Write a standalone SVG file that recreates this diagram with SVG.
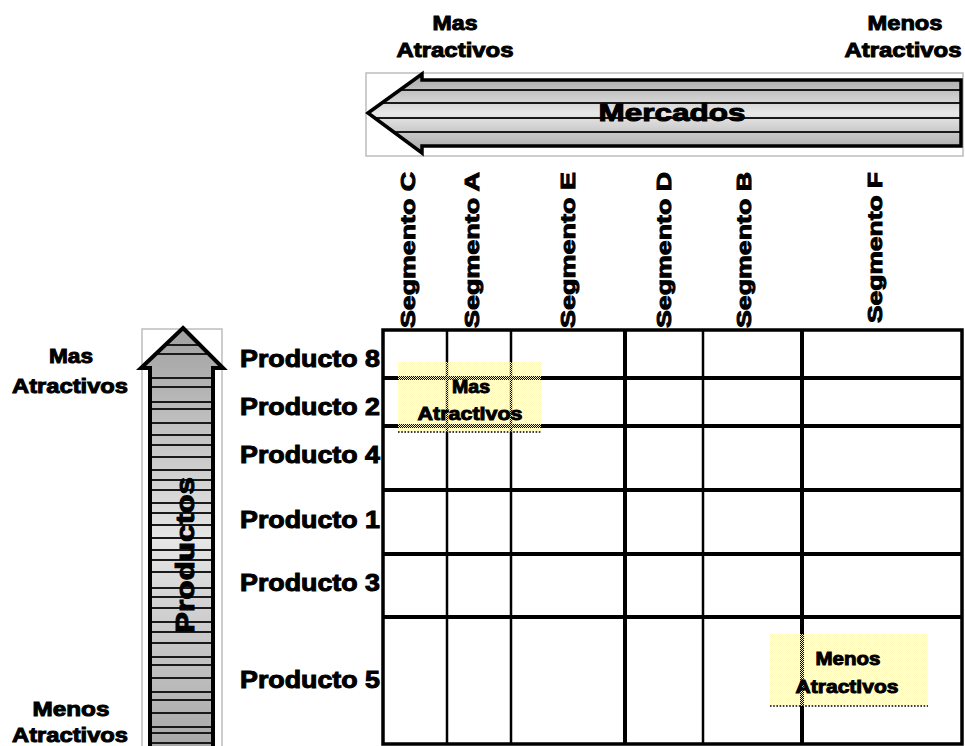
<svg xmlns="http://www.w3.org/2000/svg" width="965" height="746" viewBox="0 0 965 746">
<style>
text{font-family:"Liberation Sans",Arial,sans-serif;font-weight:bold;fill:#000;stroke:#000;stroke-width:1}
.lbl{font-size:21px;text-anchor:middle}
.prod{font-size:24px}
.seg{font-size:21px}
.box{font-size:19px;text-anchor:middle}
.thin{stroke:#000;stroke-width:2.5}
.thick{stroke:#000;stroke-width:4}
.stripe{stroke:#1a1a1a;stroke-width:2}
.bound{fill:none;stroke:#bdbdbd;stroke-width:1.5}
.dotline{stroke:#000;stroke-width:1.6;stroke-dasharray:1.6 1.6}
</style>
<defs>
<linearGradient id="hgrad" x1="0" y1="0" x2="0" y2="1">
<stop offset="0" stop-color="#a6a6a6"/>
<stop offset="0.5" stop-color="#e8e8e8"/>
<stop offset="1" stop-color="#a6a6a6"/>
</linearGradient>
<linearGradient id="vgrad" x1="0" y1="0" x2="0" y2="1">
<stop offset="0" stop-color="#a0a0a0"/>
<stop offset="0.5" stop-color="#e6e6e6"/>
<stop offset="1" stop-color="#a6a6a6"/>
</linearGradient>
<pattern id="ydots" width="2" height="2" patternUnits="userSpaceOnUse">
<rect width="1" height="1" fill="#fff8bb"/>
<rect x="1" y="1" width="1" height="1" fill="#fff8bb"/>
</pattern>
<clipPath id="hclip"><path d="M368,113 L422,74 L422,80 L961,80 L961,146 L422,146 L422,153 Z"/></clipPath>
<clipPath id="vclip"><path d="M183,328 L223,368 L213,368 L213,752 L150,752 L150,368 L141,368 Z"/></clipPath>
</defs>

<g id="top-labels">
<text class="lbl" x="455" y="30" textLength="45" lengthAdjust="spacingAndGlyphs">Mas</text>
<text class="lbl" x="455" y="57" textLength="117" lengthAdjust="spacingAndGlyphs">Atractivos</text>
<text class="lbl" x="905" y="30" textLength="75" lengthAdjust="spacingAndGlyphs">Menos</text>
<text class="lbl" x="903" y="57" textLength="117" lengthAdjust="spacingAndGlyphs">Atractivos</text>
</g>

<g id="mercados-arrow">
<rect class="bound" x="366" y="73" width="597" height="83"/>
<path d="M368,113 L422,74 L422,80 L961,80 L961,146 L422,146 L422,153 Z" fill="url(#hgrad)"/>
<g clip-path="url(#hclip)">
<line class="stripe" x1="360" y1="90" x2="965" y2="90"/>
<line class="stripe" x1="360" y1="103" x2="965" y2="103"/>
<line class="stripe" x1="360" y1="118" x2="965" y2="118"/>
<line class="stripe" x1="360" y1="132" x2="965" y2="132"/>
</g>
<path d="M368,113 L422,74 L422,80 L961,80 L961,146 L422,146 L422,153 Z" fill="none" stroke="#000" stroke-width="3.5"/>
<text x="672" y="121" style="font-size:24px;text-anchor:middle" textLength="147" lengthAdjust="spacingAndGlyphs">Mercados</text>
</g>

<g id="left-labels">
<text class="lbl" x="71" y="363" textLength="44" lengthAdjust="spacingAndGlyphs">Mas</text>
<text class="lbl" x="70" y="393" textLength="116" lengthAdjust="spacingAndGlyphs">Atractivos</text>
<text class="lbl" x="71" y="716" textLength="77" lengthAdjust="spacingAndGlyphs">Menos</text>
<text class="lbl" x="70" y="742" textLength="116" lengthAdjust="spacingAndGlyphs">Atractivos</text>
</g>

<g id="productos-arrow">
<rect class="bound" x="142" y="329" width="80" height="422"/>
<path d="M183,328 L223,368 L213,368 L213,752 L150,752 L150,368 L141,368 Z" fill="url(#vgrad)"/>
<g clip-path="url(#vclip)">
<line class="stripe" x1="130" y1="345" x2="230" y2="345"/>
<line class="stripe" x1="130" y1="354" x2="230" y2="354"/>
<line class="stripe" x1="130" y1="378" x2="230" y2="378"/>
<line class="stripe" x1="130" y1="387" x2="230" y2="387"/>
<line class="stripe" x1="130" y1="402" x2="230" y2="402"/>
<line class="stripe" x1="130" y1="409" x2="230" y2="409"/>
<line class="stripe" x1="130" y1="423" x2="230" y2="423"/>
<line class="stripe" x1="130" y1="435" x2="230" y2="435"/>
<line class="stripe" x1="130" y1="445" x2="230" y2="445"/>
<line class="stripe" x1="130" y1="457" x2="230" y2="457"/>
<line class="stripe" x1="130" y1="470" x2="230" y2="470"/>
<line class="stripe" x1="130" y1="480" x2="230" y2="480"/>
<line class="stripe" x1="130" y1="490" x2="230" y2="490"/>
<line class="stripe" x1="130" y1="503" x2="230" y2="503"/>
<line class="stripe" x1="130" y1="513" x2="230" y2="513"/>
<line class="stripe" x1="130" y1="525" x2="230" y2="525"/>
<line class="stripe" x1="130" y1="538" x2="230" y2="538"/>
<line class="stripe" x1="130" y1="550" x2="230" y2="550"/>
<line class="stripe" x1="130" y1="560" x2="230" y2="560"/>
<line class="stripe" x1="130" y1="572" x2="230" y2="572"/>
<line class="stripe" x1="130" y1="588" x2="230" y2="588"/>
<line class="stripe" x1="130" y1="597" x2="230" y2="597"/>
<line class="stripe" x1="130" y1="608" x2="230" y2="608"/>
<line class="stripe" x1="130" y1="622" x2="230" y2="622"/>
<line class="stripe" x1="130" y1="632" x2="230" y2="632"/>
<line class="stripe" x1="130" y1="643" x2="230" y2="643"/>
<line class="stripe" x1="130" y1="657" x2="230" y2="657"/>
<line class="stripe" x1="130" y1="665" x2="230" y2="665"/>
<line class="stripe" x1="130" y1="678" x2="230" y2="678"/>
<line class="stripe" x1="130" y1="692" x2="230" y2="692"/>
<line class="stripe" x1="130" y1="700" x2="230" y2="700"/>
<line class="stripe" x1="130" y1="713" x2="230" y2="713"/>
<line class="stripe" x1="130" y1="727" x2="230" y2="727"/>
<line class="stripe" x1="130" y1="733" x2="230" y2="733"/>
<line class="stripe" x1="130" y1="743" x2="230" y2="743"/>
</g>
<path d="M183,328 L223,368 L213,368 L213,752 L150,752 L150,368 L141,368 Z" fill="none" stroke="#000" stroke-width="4"/>
<text transform="translate(194,633) rotate(-90)" style="font-size:26px" textLength="156" lengthAdjust="spacingAndGlyphs">Productos</text>
</g>

<g id="segment-labels">
<text class="seg" transform="translate(415,328) rotate(-90)" textLength="156" lengthAdjust="spacingAndGlyphs">Segmento C</text>
<text class="seg" transform="translate(479,328) rotate(-90)" textLength="156" lengthAdjust="spacingAndGlyphs">Segmento A</text>
<text class="seg" transform="translate(575,328) rotate(-90)" textLength="156" lengthAdjust="spacingAndGlyphs">Segmento E</text>
<text class="seg" transform="translate(671,328) rotate(-90)" textLength="156" lengthAdjust="spacingAndGlyphs">Segmento D</text>
<text class="seg" transform="translate(751,328) rotate(-90)" textLength="156" lengthAdjust="spacingAndGlyphs">Segmento B</text>
<text class="seg" transform="translate(882,323) rotate(-90)" textLength="151" lengthAdjust="spacingAndGlyphs">Segmento F</text>
</g>

<g id="product-labels">
<text class="prod" x="240" y="367" textLength="140" lengthAdjust="spacingAndGlyphs">Producto 8</text>
<text class="prod" x="240" y="415" textLength="140" lengthAdjust="spacingAndGlyphs">Producto 2</text>
<text class="prod" x="240" y="463" textLength="140" lengthAdjust="spacingAndGlyphs">Producto 4</text>
<text class="prod" x="240" y="528" textLength="140" lengthAdjust="spacingAndGlyphs">Producto 1</text>
<text class="prod" x="240" y="591" textLength="140" lengthAdjust="spacingAndGlyphs">Producto 3</text>
<text class="prod" x="240" y="688" textLength="140" lengthAdjust="spacingAndGlyphs">Producto 5</text>
</g>

<g id="grid">
<rect x="383" y="330" width="579" height="414" fill="#fff" stroke="none"/>
<line class="thin" x1="447" y1="330" x2="447" y2="744"/>
<line class="thin" x1="511" y1="330" x2="511" y2="744"/>
<line class="thick" x1="625" y1="330" x2="625" y2="744"/>
<line class="thin" x1="703" y1="330" x2="703" y2="744"/>
<line class="thick" x1="802" y1="330" x2="802" y2="744"/>
<line class="thick" x1="383" y1="378" x2="962" y2="378"/>
<line class="thick" x1="383" y1="426" x2="962" y2="426"/>
<line class="thick" x1="383" y1="490" x2="962" y2="490"/>
<line class="thick" x1="383" y1="554" x2="962" y2="554"/>
<line class="thick" x1="383" y1="617" x2="962" y2="617"/>
<rect x="383" y="330" width="579" height="414" fill="none" stroke="#000" stroke-width="3.5"/>
</g>

<g id="box-mas-atractivos">
<rect x="398" y="362" width="143" height="70" fill="url(#ydots)"/>
<line class="dotline" x1="398" y1="432" x2="541" y2="432"/>
<text class="box" x="471" y="393" textLength="38" lengthAdjust="spacingAndGlyphs">Mas</text>
<text class="box" x="470" y="420" textLength="105" lengthAdjust="spacingAndGlyphs">Atractivos</text>
</g>

<g id="box-menos-atractivos">
<rect x="770" y="634" width="158" height="72" fill="url(#ydots)"/>
<line class="dotline" x1="770" y1="706" x2="928" y2="706"/>
<text class="box" x="848" y="665" textLength="65" lengthAdjust="spacingAndGlyphs">Menos</text>
<text class="box" x="847" y="693" textLength="103" lengthAdjust="spacingAndGlyphs">Atractivos</text>
</g>
</svg>
